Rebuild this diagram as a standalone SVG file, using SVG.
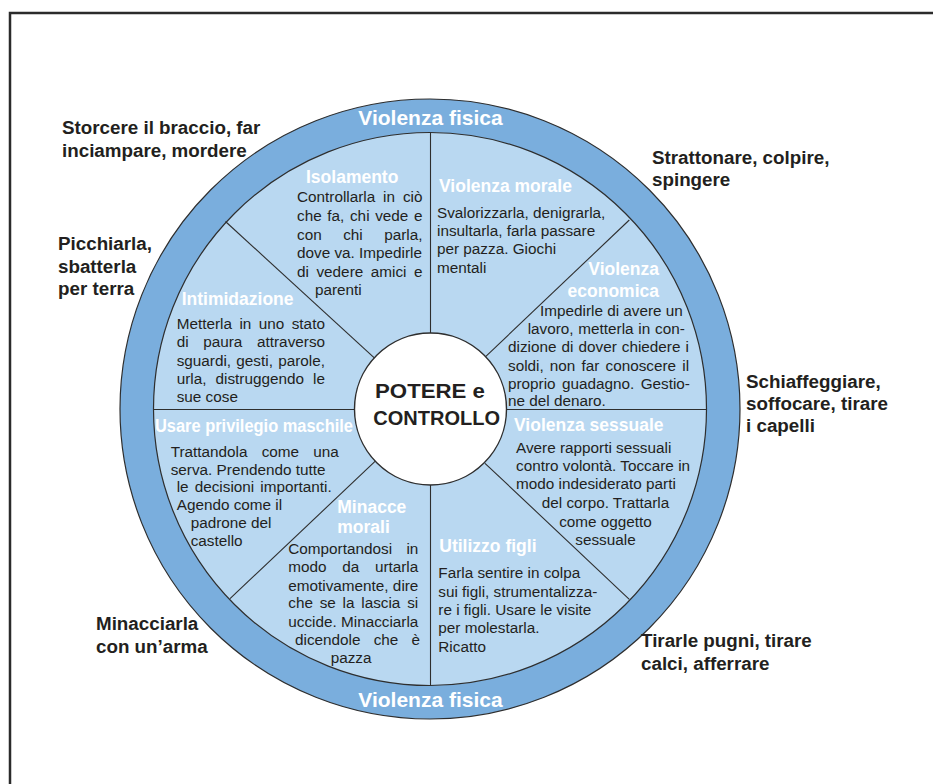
<svg xmlns="http://www.w3.org/2000/svg" width="933" height="784" viewBox="0 0 933 784">
  <style>
    text { font-family: "Liberation Sans", Arial, sans-serif; }
    .outer { font-size: 18.8px; font-weight: bold; fill: #231f20; }
    .ring { font-size: 21px; font-weight: bold; fill: #ffffff; text-anchor: middle; }
    .title { font-size: 17.5px; font-weight: bold; fill: #ffffff; }
    .body { font-size: 15.3px; fill: #231f20; }
    .hub { font-size: 21px; font-weight: bold; fill: #231f20; }
    .div { stroke: #2e2e2e; stroke-width: 1.1; fill: none; }
  </style>

  <!-- page frame -->
  <rect x="10" y="13" width="1000" height="1000" fill="#ffffff" stroke="#2b2b2b" stroke-width="2.5"/>

  <!-- wheel background -->
  <g id="wheel">
    <circle cx="430" cy="409" r="310" fill="#7aaedd" stroke="#2e2e2e" stroke-width="1.2"/>
    <circle cx="430" cy="409" r="276.5" fill="#b9d8f1" stroke="#2e2e2e" stroke-width="1.2"/>
  </g>

  <!-- spokes between sectors -->
  <g id="connectors">
    <line class="div" x1="430.5" y1="132.5" x2="430.5" y2="333"/>
    <line class="div" x1="430.5" y1="485" x2="430.5" y2="685.5"/>
    <line class="div" x1="153.5" y1="409.5" x2="354.5" y2="409.5"/>
    <line class="div" x1="506.5" y1="409.5" x2="706.5" y2="409.5"/>
    <line class="div" x1="225.5" y1="221.5" x2="374.3" y2="357.8"/>
    <line class="div" x1="629.3" y1="220" x2="485.6" y2="356.6"/>
    <line class="div" x1="485" y1="463.3" x2="629.3" y2="599.3"/>
    <line class="div" x1="375.3" y1="461.2" x2="230" y2="598.6"/>
  </g>

  <!-- hub -->
  <g id="hub">
    <circle cx="430.5" cy="409" r="76" fill="#ffffff" stroke="#2e2e2e" stroke-width="1.4"/>
    <text class="hub" x="375" y="398.3" textLength="110" lengthAdjust="spacingAndGlyphs">POTERE e</text>
    <text class="hub" x="373.3" y="425" textLength="126.7" lengthAdjust="spacingAndGlyphs">CONTROLLO</text>
  </g>

  <!-- ring labels -->
  <g id="ring-top"><text class="ring" x="430.5" y="125">Violenza fisica</text></g>
  <g id="ring-bottom"><text class="ring" x="430.5" y="706.7">Violenza fisica</text></g>

  <!-- sector: Isolamento -->
  <g id="isolamento">
    <text class="title" x="306" y="182.7">Isolamento</text>
    <text class="body" x="297" y="202.3" word-spacing="3.65">Controllarla in ciò</text>
    <text class="body" x="297" y="221" word-spacing="1.4">che fa, chi vede e</text>
    <text class="body" x="297" y="240" word-spacing="17.25">con chi parla,</text>
    <text class="body" x="297" y="258.3">dove va. Impedirle</text>
    <text class="body" x="297" y="276.7" word-spacing="3.3">di vedere amici e</text>
    <text class="body" x="315" y="295">parenti</text>
  </g>

  <!-- sector: Violenza morale -->
  <g id="violenza-morale">
    <text class="title" x="439" y="191.7">Violenza morale</text>
    <text class="body" x="437" y="217.5">Svalorizzarla, denigrarla,</text>
    <text class="body" x="437" y="235.9">insultarla, farla passare</text>
    <text class="body" x="437" y="254.3">per pazza. Giochi</text>
    <text class="body" x="437" y="272.7">mentali</text>
  </g>

  <!-- sector: Violenza economica -->
  <g id="violenza-economica">
    <text class="title" x="659" y="275" text-anchor="end">Violenza</text>
    <text class="title" x="659" y="296.7" text-anchor="end">economica</text>
    <text class="body" x="540" y="316">Impedirle di avere un</text>
    <text class="body" x="527.7" y="334" word-spacing="0.5">lavoro, metterla in con-</text>
    <text class="body" x="508" y="352.3" word-spacing="0.8">dizione di dover chiedere i</text>
    <text class="body" x="508" y="370.7" word-spacing="1.9">soldi, non far conoscere il</text>
    <text class="body" x="508" y="389" word-spacing="2.1">proprio guadagno. Gestio-</text>
    <text class="body" x="508" y="406">ne del denaro.</text>
  </g>

  <!-- sector: Intimidazione -->
  <g id="intimidazione">
    <text class="title" x="181.7" y="305">Intimidazione</text>
    <text class="body" x="176.7" y="328.5" word-spacing="3.2">Metterla in uno stato</text>
    <text class="body" x="176.7" y="347" word-spacing="10.4">di paura attraverso</text>
    <text class="body" x="176.7" y="365.5" word-spacing="1">sguardi, gesti, parole,</text>
    <text class="body" x="176.7" y="384" word-spacing="4.85">urla, distruggendo le</text>
    <text class="body" x="176.7" y="402">sue cose</text>
  </g>

  <!-- sector: Usare privilegio maschile -->
  <g id="privilegio-maschile">
    <text class="title" x="155" y="432.3" textLength="198" lengthAdjust="spacingAndGlyphs">Usare privilegio maschile</text>
    <text class="body" x="170.7" y="457.3" word-spacing="9.9">Trattandola come una</text>
    <text class="body" x="170.7" y="475">serva. Prendendo tutte</text>
    <text class="body" x="176.7" y="492" word-spacing="1.85">le decisioni importanti.</text>
    <text class="body" x="176.7" y="510">Agendo come il</text>
    <text class="body" x="190.7" y="528.3">padrone del</text>
    <text class="body" x="190.7" y="546">castello</text>
  </g>

  <!-- sector: Minacce morali -->
  <g id="minacce-morali">
    <text class="title" x="337.3" y="513.3">Minacce</text>
    <text class="title" x="337.3" y="533.3">morali</text>
    <text class="body" x="288.3" y="554.3" word-spacing="10.1">Comportandosi in</text>
    <text class="body" x="288.3" y="572.3" word-spacing="11.4">modo da urtarla</text>
    <text class="body" x="288.3" y="590.7">emotivamente, dire</text>
    <text class="body" x="288.3" y="608.3" word-spacing="2.5">che se la lascia si</text>
    <text class="body" x="288.3" y="626.7">uccide. Minacciarla</text>
    <text class="body" x="295" y="645" word-spacing="8.9">dicendole che è</text>
    <text class="body" x="330.7" y="663.3">pazza</text>
  </g>

  <!-- sector: Violenza sessuale -->
  <g id="violenza-sessuale">
    <text class="title" x="514" y="431">Violenza sessuale</text>
    <text class="body" x="516" y="452.7">Avere rapporti sessuali</text>
    <text class="body" x="516" y="471">contro volontà. Toccare in</text>
    <text class="body" x="516" y="489.3">modo indesiderato parti</text>
    <text class="body" x="605.5" y="508.3" text-anchor="middle">del corpo. Trattarla</text>
    <text class="body" x="605.5" y="526.7" text-anchor="middle">come oggetto</text>
    <text class="body" x="605.5" y="545" text-anchor="middle">sessuale</text>
  </g>

  <!-- sector: Utilizzo figli -->
  <g id="utilizzo-figli">
    <text class="title" x="439.3" y="551.7">Utilizzo figli</text>
    <text class="body" x="438.3" y="578.3">Farla sentire in colpa</text>
    <text class="body" x="438.3" y="596.7">sui figli, strumentalizza-</text>
    <text class="body" x="438.3" y="615">re i figli. Usare le visite</text>
    <text class="body" x="438.3" y="633.3">per molestarla.</text>
    <text class="body" x="438.3" y="651.7">Ricatto</text>
  </g>

  <!-- physical violence examples around the wheel -->
  <g id="ex-storcere">
    <text class="outer" x="62" y="134.3">Storcere il braccio, far</text>
    <text class="outer" x="62" y="156.7">inciampare, mordere</text>
  </g>
  <g id="ex-strattonare">
    <text class="outer" x="652" y="163.5">Strattonare, colpire,</text>
    <text class="outer" x="652" y="186">spingere</text>
  </g>
  <g id="ex-picchiarla">
    <text class="outer" x="58" y="250">Picchiarla,</text>
    <text class="outer" x="58" y="272.5">sbatterla</text>
    <text class="outer" x="58" y="295">per terra</text>
  </g>
  <g id="ex-schiaffeggiare">
    <text class="outer" x="746" y="387.7">Schiaffeggiare,</text>
    <text class="outer" x="746" y="409.5">soffocare, tirare</text>
    <text class="outer" x="746" y="431.7">i capelli</text>
  </g>
  <g id="ex-minacciarla">
    <text class="outer" x="96" y="629.5">Minacciarla</text>
    <text class="outer" x="96" y="652.5">con un’arma</text>
  </g>
  <g id="ex-tirarle">
    <text class="outer" x="641" y="647">Tirarle pugni, tirare</text>
    <text class="outer" x="641" y="669.5">calci, afferrare</text>
  </g>
</svg>
